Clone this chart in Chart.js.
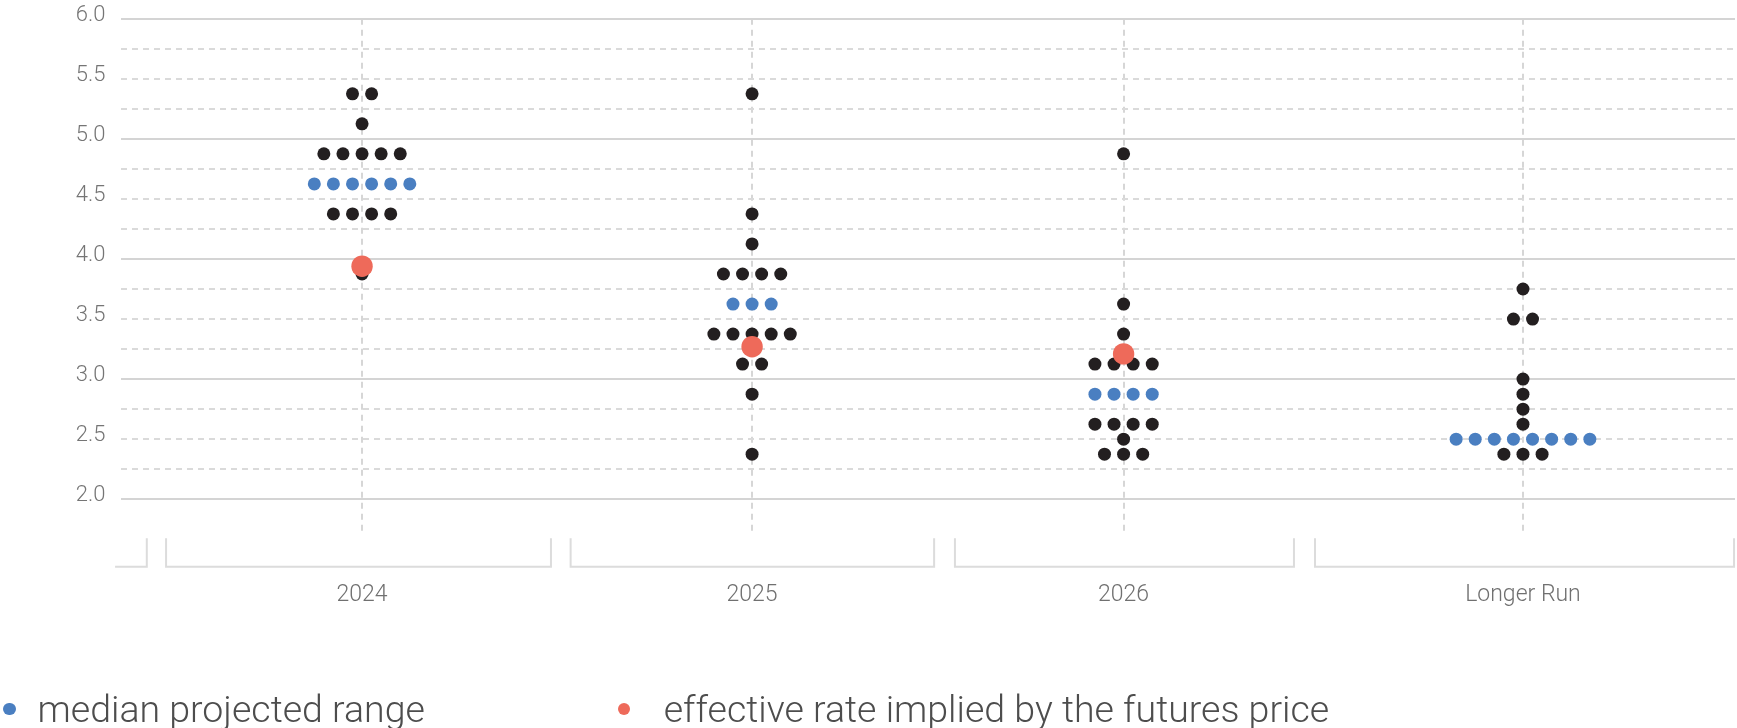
<!DOCTYPE html>
<html><head><meta charset="utf-8">
<script src="https://cdn.jsdelivr.net/npm/chart.js@4.4.1/dist/chart.umd.min.js"></script>
<style>
html,body{margin:0;padding:0;background:#fff;overflow:hidden}
#wrap{position:relative;width:1737px;height:728px;overflow:hidden}
canvas{position:absolute;left:0;top:0}
.lg{position:absolute;font-family:Roboto,'Noto Sans',sans-serif;font-weight:300;font-size:37.5px;line-height:37.5px;color:#4d4d4d;white-space:nowrap}
.dot{position:absolute;width:12.5px;height:12.5px;border-radius:50%}
</style></head><body>
<div id="wrap"><canvas id="c" width="1737" height="728"></canvas><div id="legend"></div></div>
<script>
// ---- data ----
const categories = ['2024', '2025', '2026', 'Longer Run'];
const categoryX = [12.62, 33.04, 52.49, 73.40];   // category centres on the x scale (dot-slot units)
const proj2024 = [5.375, 5.375, 5.125, 4.875, 4.875, 4.875, 4.875, 4.875, 4.625, 4.625, 4.625, 4.625, 4.625, 4.625, 4.375, 4.375, 4.375, 4.375, 3.875];
const proj2025 = [5.375, 4.375, 4.125, 3.875, 3.875, 3.875, 3.875, 3.625, 3.625, 3.625, 3.375, 3.375, 3.375, 3.375, 3.375, 3.125, 3.125, 2.875, 2.375];
const proj2026 = [4.875, 3.625, 3.375, 3.125, 3.125, 3.125, 3.125, 2.875, 2.875, 2.875, 2.875, 2.625, 2.625, 2.625, 2.625, 2.5, 2.375, 2.375, 2.375];
const projLonger = [3.75, 3.5, 3.5, 3.0, 2.875, 2.75, 2.625, 2.5, 2.5, 2.5, 2.5, 2.5, 2.5, 2.5, 2.5, 2.375, 2.375, 2.375];
const futuresRate = [3.94, 3.27, 3.21];
const yGridValues = [2.0, 2.25, 2.5, 2.75, 3.0, 3.25, 3.5, 3.75, 4.0, 4.25, 4.5, 4.75, 5.0, 5.25, 5.5, 5.75, 6.0];
const ySolidValues = [2.0, 3.0, 4.0, 5.0, 6.0];
const xRange = [0, 84.5];
const yRange = [1.73, 6.0];
const bracketRanges = [[-0.31, 1.35], [2.36, 22.51], [23.54, 42.57], [43.66, 61.41], [62.51, 84.45]];
const seriesLabels = ['median projected range', 'effective rate implied by the futures price'];

const projections = [proj2024, proj2025, proj2026, projLonger];
const COLORS = { black: '#231f20', blue: '#4a7fc1', red: '#ee6a5a' };

function median(arr) {
  const s = arr.slice().sort((a, b) => a - b);
  const n = s.length;
  return n % 2 ? s[(n - 1) / 2] : (s[n / 2 - 1] + s[n / 2]) / 2;
}

// beeswarm-style rows: dots with equal value are centred side by side
const blackPts = [], bluePts = [];
projections.forEach((vals, ci) => {
  const med = median(vals);
  const groups = new Map();
  vals.forEach(v => groups.set(v, (groups.get(v) || 0) + 1));
  groups.forEach((n, v) => {
    for (let k = 0; k < n; k++) {
      const pt = { x: categoryX[ci] + (k - (n - 1) / 2), y: v };
      (v === med ? bluePts : blackPts).push(pt);
    }
  });
});
const redPts = futuresRate.map((v, i) => ({ x: categoryX[i], y: v }));

const bracketPlugin = {
  id: 'brackets',
  afterDraw(chart) {
    const xs = chart.scales.x, ctx = chart.ctx;
    const top = chart.chartArea.bottom + 6.5, bottom = chart.chartArea.bottom + 35;
    ctx.save();
    ctx.strokeStyle = '#dcdcdc'; ctx.lineWidth = 2; ctx.lineJoin = 'miter';
    bracketRanges.forEach(([a, b]) => {
      const xa = xs.getPixelForValue(a), xb = xs.getPixelForValue(b);
      ctx.beginPath();
      if (a >= xs.min) { ctx.moveTo(xa, top); ctx.lineTo(xa, bottom); }
      else ctx.moveTo(xa, bottom);
      ctx.lineTo(xb, bottom); ctx.lineTo(xb, top);
      ctx.stroke();
    });
    ctx.restore();
  }
};

const font = (size) => ({ family: 'Roboto, "Noto Sans", sans-serif', size, weight: 300 });
const noPad = s => { s.paddingLeft = 0; s.paddingRight = 0; s.paddingTop = 0; s.paddingBottom = 0; };

new Chart(document.getElementById('c'), {
  type: 'scatter',
  data: {
    datasets: [
      { label: seriesLabels[1], data: redPts, backgroundColor: COLORS.red, borderWidth: 0, pointRadius: 10.7, order: 0, xAxisID: 'x', yAxisID: 'y' },
      { label: seriesLabels[0], data: bluePts, backgroundColor: COLORS.blue, borderWidth: 0, pointRadius: 6.5, order: 1, xAxisID: 'x', yAxisID: 'y' },
      { label: 'participants', data: blackPts, backgroundColor: COLORS.black, borderWidth: 0, pointRadius: 6.5, order: 2, xAxisID: 'x', yAxisID: 'y' }
    ]
  },
  options: {
    responsive: false,
    animation: false,
    devicePixelRatio: 1,
    events: [],
    layout: { autoPadding: false, padding: { top: 18.7, right: 2, left: 0, bottom: 0 } },
    plugins: { legend: { display: false }, tooltip: { enabled: false } },
    scales: {
      x: {
        type: 'linear', min: xRange[0], max: xRange[1], position: 'bottom',
        afterBuildTicks: s => { s.ticks = categoryX.map(v => ({ value: v })); },
        afterFit: s => { s.height = 196.3; noPad(s); },
        border: { display: false, dash: [6, 5] },
        grid: { drawTicks: false, lineWidth: 2, color: '#d6d6d6' },
        ticks: { padding: 50, maxRotation: 0, autoSkip: false, color: '#707070', font: font(23),
                 callback: (v, i) => categories[i] }
      },
      y: {
        type: 'linear', min: yRange[0], max: yRange[1], position: 'left',
        afterBuildTicks: s => { s.ticks = yGridValues.map(v => ({ value: v })); },
        afterFit: s => { s.width = 121; noPad(s); },
        border: { display: false, dash: [6, 5] },
        grid: { drawTicks: false, lineWidth: 2,
                color: c => (c.tick && Number.isInteger(c.tick.value)) ? 'rgba(0,0,0,0)' : '#dadada' },
        ticks: { padding: 15.5, labelOffset: -3.5, autoSkip: false, color: '#757575', font: font(22),
                 callback: v => (Math.abs(v * 2 - Math.round(v * 2)) < 1e-9 ? v.toFixed(1) : '') }
      },
      y2: {
        type: 'linear', min: yRange[0], max: yRange[1], position: 'left',
        afterBuildTicks: s => { s.ticks = ySolidValues.map(v => ({ value: v })); },
        afterFit: s => { s.width = 0; noPad(s); },
        border: { display: false },
        grid: { drawTicks: false, lineWidth: 2, color: '#d4d4d4' },
        ticks: { display: false }
      }
    }
  },
  plugins: [bracketPlugin]
});

// legend (HTML)
const legend = document.getElementById('legend');
const legendItems = [
  { text: seriesLabels[0], color: COLORS.blue, dotLeft: 3, textLeft: 37.5 },
  { text: seriesLabels[1], color: COLORS.red, dotLeft: 617.5, textLeft: 663.7 }
];
legendItems.forEach(it => {
  const d = document.createElement('div');
  d.className = 'dot'; d.style.left = it.dotLeft + 'px'; d.style.top = '702.5px'; d.style.background = it.color;
  legend.appendChild(d);
  const t = document.createElement('div');
  t.className = 'lg'; t.style.left = it.textLeft + 'px'; t.style.top = '690.6px'; t.textContent = it.text;
  legend.appendChild(t);
});
</script>
</body></html>
